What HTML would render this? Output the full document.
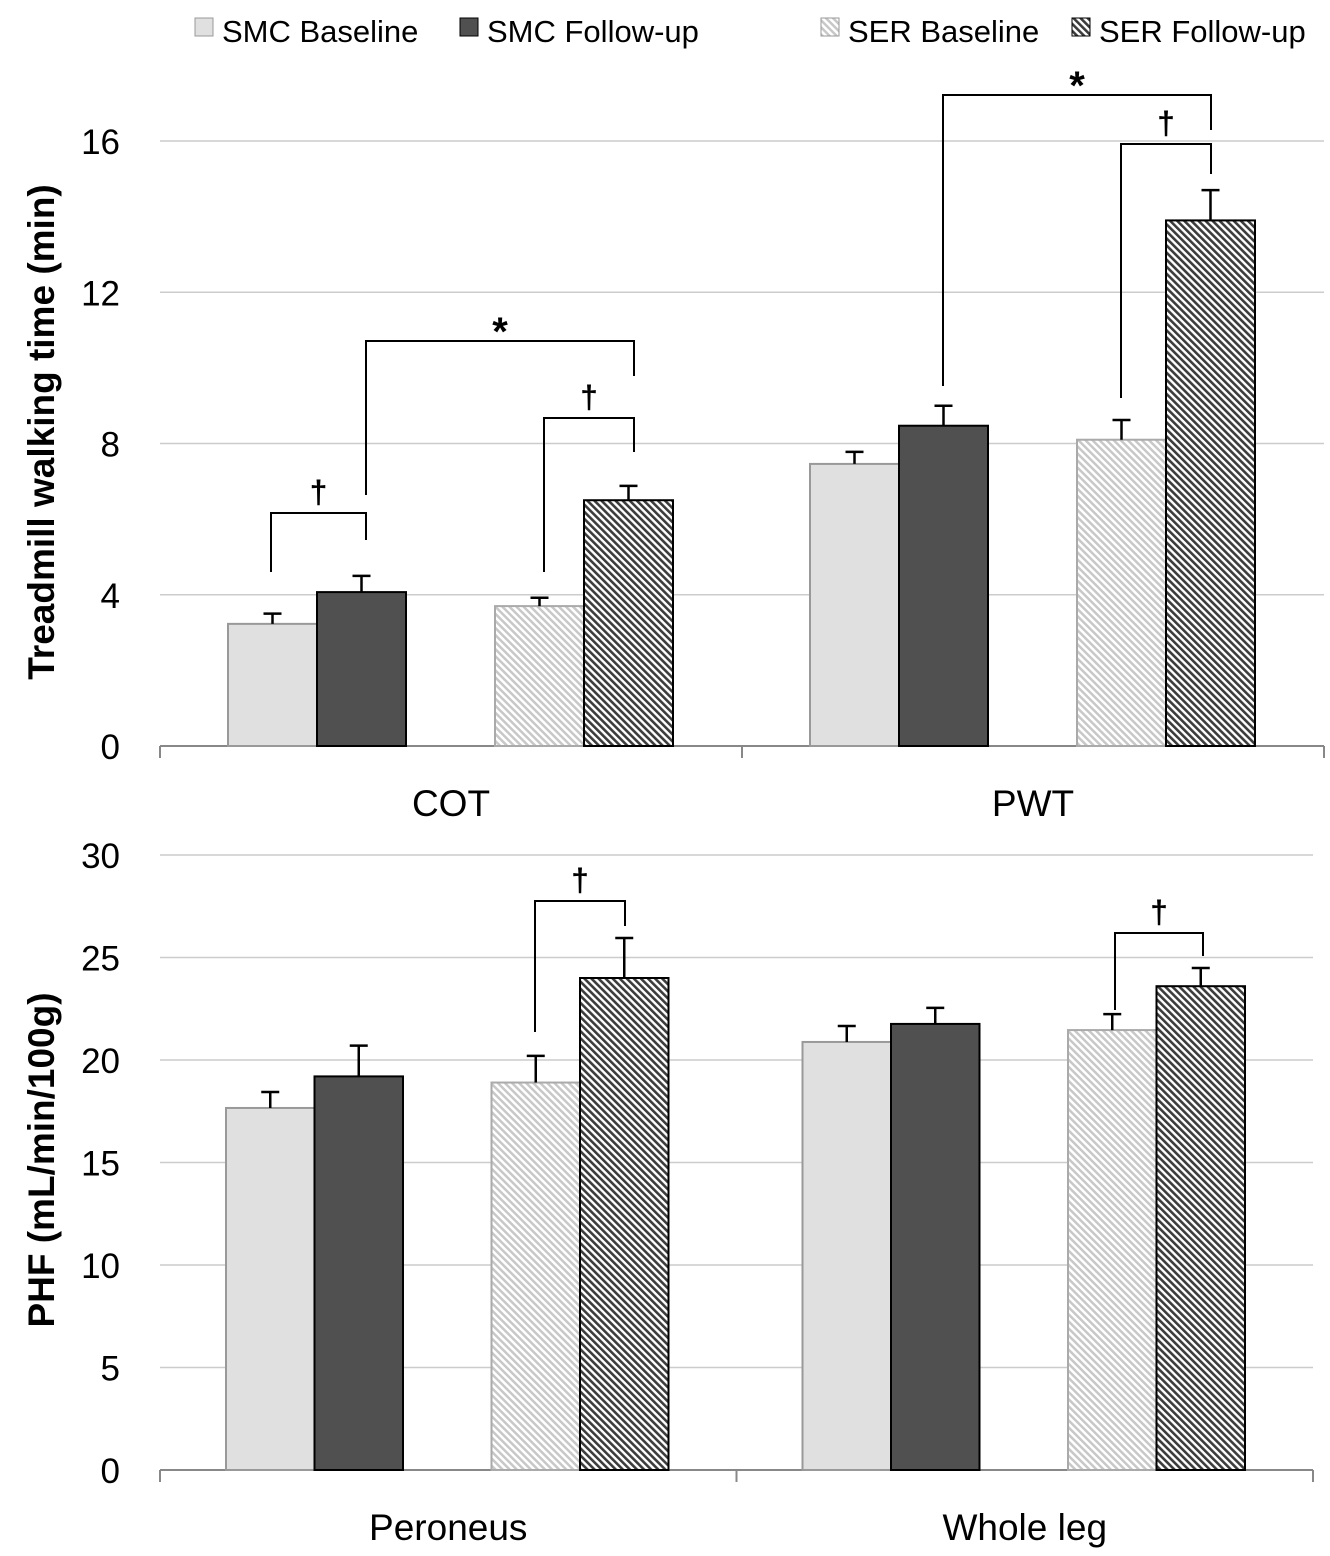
<!DOCTYPE html>
<html><head><meta charset="utf-8"><style>
body{margin:0;background:#fff;}
svg{display:block;font-family:"Liberation Sans",sans-serif;}
</style></head><body>
<svg id="chart" width="1330" height="1556" xmlns="http://www.w3.org/2000/svg">
<defs>
<pattern id="hatchLight" patternUnits="userSpaceOnUse" width="5" height="5" patternTransform="rotate(-45)">
<rect width="5" height="5" fill="#fff"/><rect width="2.5" height="5" fill="#c8c8c8"/></pattern>
<pattern id="hatchDark" patternUnits="userSpaceOnUse" width="5" height="5" patternTransform="rotate(-45)">
<rect width="5" height="5" fill="#fff"/><rect width="2.6" height="5" fill="#3c3c3c"/></pattern>
</defs>
<g>
<rect x="195" y="18" width="18" height="18" fill="#e0e0e0" stroke="#999"/>
<text x="222" y="42" font-size="31">SMC Baseline</text>
<rect x="460" y="18" width="18" height="18" fill="#505050" stroke="#000"/>
<text x="487" y="42" font-size="31">SMC Follow-up</text>
<rect x="821" y="18" width="18" height="18" fill="url(#hatchLight)" stroke="#999"/>
<text x="848" y="42" font-size="31">SER Baseline</text>
<rect x="1072" y="18" width="18" height="18" fill="url(#hatchDark)" stroke="#000"/>
<text x="1099" y="42" font-size="31">SER Follow-up</text>
</g>
<text transform="translate(54,432) rotate(-90)" text-anchor="middle" font-size="37" font-weight="bold">Treadmill walking time (min)</text>
<text transform="translate(54,1160) rotate(-90)" text-anchor="middle" font-size="37" font-weight="bold">PHF (mL/min/100g)</text>
<g id="top"></g>
<g id="bottom"></g>
</svg>
<script>
const topCategories = ["COT", "PWT"];
const topTicks = [0, 4, 8, 12, 16];
const topSmcBase = [3.23, 7.46];
const topSmcBaseErr = [0.27, 0.32];
const topSmcFu = [4.07, 8.47];
const topSmcFuErr = [0.43, 0.53];
const topSerBase = [3.7, 8.1];
const topSerBaseErr = [0.22, 0.52];
const topSerFu = [6.5, 13.9];
const topSerFuErr = [0.38, 0.8];

const botCategories = ["Peroneus", "Whole leg"];
const botTicks = [0, 5, 10, 15, 20, 25, 30];
const botSmcBase = [17.66, 20.88];
const botSmcBaseErr = [0.78, 0.78];
const botSmcFu = [19.2, 21.76];
const botSmcFuErr = [1.5, 0.78];
const botSerBase = [18.9, 21.46];
const botSerBaseErr = [1.3, 0.78];
const botSerFu = [24.0, 23.6];
const botSerFuErr = [1.95, 0.89];

const NS = "http://www.w3.org/2000/svg";
function mk(parent, tag, attrs, text) {
  const e = document.createElementNS(NS, tag);
  for (const k in attrs) e.setAttribute(k, attrs[k]);
  if (text !== undefined) e.textContent = text;
  parent.appendChild(e);
  return e;
}

function drawChart(g, cfg) {
  const y = v => cfg.y0 - (v / cfg.max) * (cfg.y0 - cfg.yTop);
  cfg.ticks.forEach(t => {
    const l = mk(g, "line", {x1: cfg.x0, x2: cfg.x1, y1: y(t), y2: y(t), stroke: t === 0 ? "#888" : "#ccc", "stroke-width": t === 0 ? 2 : 1.5});
    
    
    const tx = mk(g, "text", {x: 120, y: y(t) + 13, "text-anchor": "end", "font-size": 35}, t);
    
    
  });
  const catW = (cfg.x1 - cfg.x0) / cfg.cats.length;
  [0, 1, 2].forEach(i => {
    const xx = cfg.x0 + i * catW;
    const tk = mk(g, "line", {x1: xx, x2: xx, y1: cfg.y0, y2: cfg.y0 + 12, stroke: "#888", "stroke-width": 2});
    
    
  });
  const series = [
    {v: cfg.s[0], e: cfg.e[0], fill: "#e0e0e0", stroke: "#999", off: 0, name: "smc-baseline"},
    {v: cfg.s[1], e: cfg.e[1], fill: "#505050", stroke: "#000", off: 1, name: "smc-followup"},
    {v: cfg.s[2], e: cfg.e[2], fill: "url(#hatchLight)", stroke: "#aaa", off: 3, name: "ser-baseline"},
    {v: cfg.s[3], e: cfg.e[3], fill: "url(#hatchDark)", stroke: "#000", off: 4, name: "ser-followup"}
  ];
  const bw = cfg.bw;
  cfg.cats.forEach((c, ci) => {
    const base = cfg.x0 + ci * catW + cfg.first;
    series.forEach(s => {
      const bx = base + s.off * bw;
      const r = mk(g, "rect", {x: bx, y: y(s.v[ci]), width: bw, height: y(0) - y(s.v[ci]), fill: s.fill, stroke: s.stroke, "stroke-width": 2});
      
      
      const cx = bx + bw / 2, top = y(s.v[ci] + s.e[ci]);
      const eb = mk(g, "path", {d: `M${cx},${y(s.v[ci])}V${top}M${cx - 9},${top}H${cx + 9}`, stroke: "#000", "stroke-width": 2.5, fill: "none"});
      
      
    });
    const lb = mk(g, "text", {x: cfg.x0 + ci * catW + catW / 2, y: cfg.y0 + 70, "text-anchor": "middle", "font-size": 37}, c);
    
    
  });
  cfg.brackets.forEach(b => {
    const p = mk(g, "path", {d: `M${b[0]},${b[1]}V${b[2]}H${b[3]}V${b[4]}`, stroke: "#000", "stroke-width": 2, fill: "none"});
    
    
    const t = mk(g, "text", {x: (b[0] + b[3]) / 2, y: b[5] === "*" ? b[2] + 4 : b[2] - 10, "text-anchor": "middle", "font-size": b[5] === "*" ? 40 : 32, "font-weight": "bold"}, b[5]);
    
    
  });
}

drawChart(document.getElementById("top"), {
  y0: 746, yTop: 141, max: 16, x0: 160, x1: 1324, ticks: topTicks, cats: topCategories,
  bw: 89, first: 68,
  s: [topSmcBase, topSmcFu, topSerBase, topSerFu], e: [topSmcBaseErr, topSmcFuErr, topSerBaseErr, topSerFuErr],
  brackets: [[271, 572, 513, 366, 540, "†"], [366, 495, 341, 634, 376, "*"], [544, 572, 418, 634, 452, "†"], [943, 386, 95, 1211, 130, "*"], [1121, 398, 144, 1211, 174, "†"]]
});
drawChart(document.getElementById("bottom"), {
  y0: 1470, yTop: 855, max: 30, x0: 160, x1: 1313, ticks: botTicks, cats: botCategories,
  bw: 88.5, first: 66,
  s: [botSmcBase, botSmcFu, botSerBase, botSerFu], e: [botSmcBaseErr, botSmcFuErr, botSerBaseErr, botSerFuErr],
  brackets: [[535, 1032, 901, 625, 926, "†"], [1115, 1010, 933, 1203, 956, "†"]]
});
</script>
</body></html>
